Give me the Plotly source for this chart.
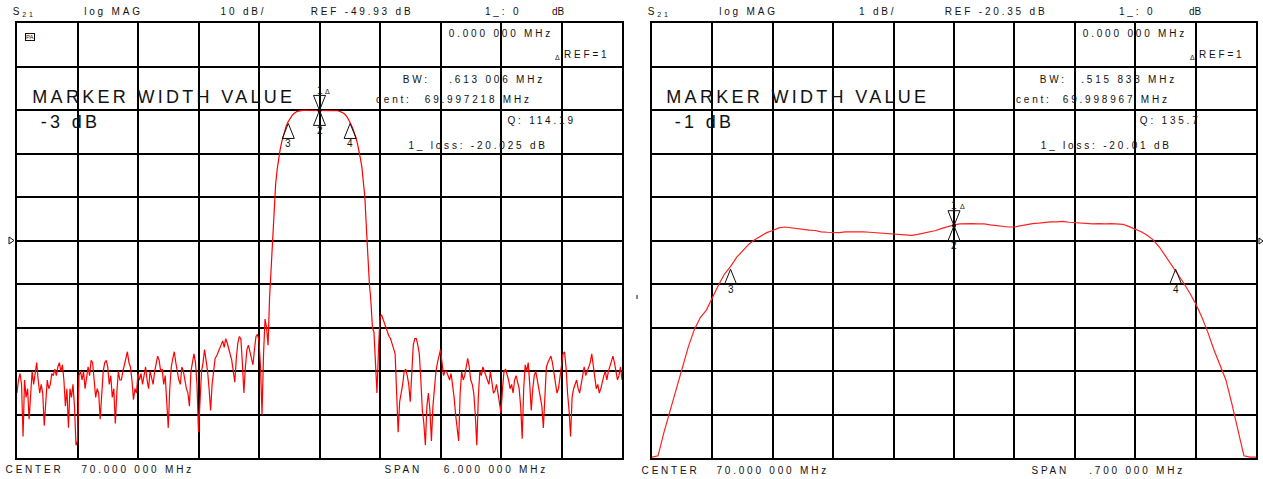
import numpy as np
import plotly.graph_objects as go

W, H = 1263, 479

# ---------------- data ----------------
left_start, left_stop = 67.0, 73.0          # MHz (center 70, span 6)
left_db = [
    -85, -82, -80.5, -83, -95, -82, -86, -84, -91, -86,
    -80, -83, -81, -78, -82, -85, -83, -85, -92.5, -86,
    -82, -84, -83, -80.5, -81, -79.5, -81, -79, -78, -80,
    -78.5, -82, -88, -84, -93, -84, -86, -83, -88, -97,
    -96, -81, -80, -82, -80, -84, -82, -79, -81, -77.5,
    -78, -83, -86, -84, -85, -91, -86, -80, -78, -77.5,
    -79, -83, -81, -86, -84, -92, -85, -80, -82, -82,
    -80, -78, -77, -75.5, -78, -79, -82, -86.5, -84, -85,
    -80.5, -82, -80.5,
    -83, -80.5, -79, -82, -84, -80, -81.5, -83, -80, -78,
    -76.5, -77.5, -80, -79.5, -83, -81, -86, -93, -84, -79,
    -77, -75.5, -78, -80.5, -82, -83, -79, -80, -82.5, -84,
    -85, -88, -80, -77.5, -76, -78, -83, -94, -85, -80,
    -78, -75, -77.5, -80, -84, -89, -83, -79, -77, -76.5,
    -75.5, -75, -74, -73, -74.5, -72.5, -73.5, -75, -76, -77.5,
    -80, -82.5, -77, -73.5, -72, -72.5, -78, -85, -79, -75,
    -74, -75.5, -77, -78.5, -75, -72, -71.5, -73, -79, -90,
    -76, -68, -70, -74, -63, -56, -48, -41, -37, -33.6,
    -31, -29, -27.3, -26, -24.7, -23.6, -22.8, -22.2, -21.6, -21.1,
    -20.8, -20.5, -20.3, -20.2, -20.1, -20.05,
    -20.02, -20.02, -20.02, -20.02, -20.02, -20.02, -20.02, -20.02, -20.02, -20.02,
    -20.02, -20.02, -20.02, -20.02, -20.02, -20.02, -20.02, -20.02, -20.02, -20.02,
    -20.02,
    -20.05, -20.07, -20.1, -20.2, -20.3, -20.5, -20.7, -21.0, -21.4, -22.0,
    -22.6, -23.4, -24.2, -25.1, -26.2, -27.5, -29, -31, -33, -36,
    -40, -47, -55, -60, -64, -70, -71, -78, -85, -75,
    -67.5, -67, -68, -69, -70.5, -71, -72, -72.5, -73.5, -75,
    -76, -85, -94, -87, -85, -83, -80, -79.5, -81, -83,
    -87, -80, -74, -72.5, -72.5, -74, -76, -82, -89, -92,
    -97, -88, -85, -89, -96, -88, -83, -80, -78, -76,
    -75, -78, -81, -80, -80, -81, -82, -80.5, -83, -86,
    -90, -94, -96, -85, -80, -82, -81, -79, -77, -79,
    -82, -83, -85, -90, -97, -86, -80, -81, -79, -80,
    -81, -82, -83, -80, -82, -85, -84.5, -83, -85, -87,
    -89.6, -84, -80, -79.5, -80.5, -82, -84, -83, -85, -82,
    -81, -83, -84, -88, -95.5, -84, -78.5, -80, -78, -83,
    -89, -84, -81, -80, -82, -84, -85, -88, -93, -84,
    -79, -78, -77, -76.5, -78, -80, -82, -85, -84, -81,
    -78, -76, -75.5, -79, -85, -89, -95, -86, -84, -83,
    -82, -84, -85, -83, -81, -79, -81, -80, -79.5, -78,
    -76, -79, -81, -84, -83, -85, -84, -82, -81, -80,
    -82, -80, -79, -77.5, -76.5, -78, -80, -82, -81, -79,
    -82,
]

right_start, right_stop = 69.65, 70.35      # MHz (center 70, span 0.7)
right_db = [
    -25.33, -25.3, -24.75, -24.25, -23.75, -23.3, -22.8, -22.4, -22.12, -21.95,
    -21.65, -21.38, -21.12, -20.95, -20.74, -20.58, -20.44, -20.33, -20.24, -20.17,
    -20.12, -20.06, -20.04, -20.06, -20.08, -20.09, -20.11, -20.12, -20.15, -20.16,
    -20.16, -20.17, -20.15, -20.15, -20.14, -20.15, -20.16, -20.17, -20.19, -20.2,
    -20.21, -20.22, -20.22, -20.23, -20.21, -20.18, -20.15, -20.12, -20.07, -20.03,
    -19.99, -19.97, -19.96, -19.96, -19.97, -19.97, -19.99, -20.01, -20.03, -20.04,
    -20.04, -20.01, -19.98, -19.96, -19.95, -19.93, -19.92, -19.92, -19.91, -19.93,
    -19.94, -19.95, -19.96, -19.97, -19.96, -19.97, -19.96, -19.97, -19.98, -20.03,
    -20.09, -20.15, -20.23, -20.34, -20.5, -20.7, -20.92, -21.1, -21.32, -21.55,
    -21.8, -22.1, -22.45, -22.85, -23.2, -23.55, -24.1, -24.7, -25.3, -25.33,
    -25.33,
]

# markers: 1 (reference, delta), 2, 3, 4
left_marker_freq = [70.0, 70.0, 69.690715, 70.303721]
left_marker_db = [-20.025, -20.025, -23.025, -23.025]
right_marker_freq = [70.0, 70.0, 69.741050, 70.256884]
right_marker_db = [-20.01, -20.01, -21.01, -21.01]
marker_labels = ["1", "2", "3", "4"]

left_ref, left_div = -49.93, 10.0
right_ref, right_div = -20.35, 1.0

left_freq = np.linspace(left_start, left_stop, len(left_db))
right_freq = np.linspace(right_start, right_stop, len(right_db))

# ---------------- figure ----------------
TOP, BOT = 23, 458
def px(x):
    return x / W
def py(y):
    return (H - y) / H

fig = go.Figure()
fig.add_trace(go.Scatter(x=left_freq, y=left_db, mode="lines",
                         line=dict(color="#ff0000", width=1.2), xaxis="x", yaxis="y",
                         showlegend=False, hoverinfo="skip"))
fig.add_trace(go.Scatter(x=right_freq, y=right_db, mode="lines",
                         line=dict(color="#ff2020", width=1.2), xaxis="x2", yaxis="y2",
                         showlegend=False, hoverinfo="skip"))
# apex dots of markers 1/2
fig.add_trace(go.Scatter(x=left_marker_freq[:1], y=left_marker_db[:1], mode="markers",
                         marker=dict(color="black", size=4), xaxis="x", yaxis="y",
                         showlegend=False, hoverinfo="skip"))
fig.add_trace(go.Scatter(x=right_marker_freq[:1], y=right_marker_db[:1], mode="markers",
                         marker=dict(color="black", size=4), xaxis="x2", yaxis="y2",
                         showlegend=False, hoverinfo="skip"))

ax_common = dict(showgrid=True, gridcolor="#000000", gridwidth=1.5, zeroline=False,
                 showticklabels=False, ticks="", showline=True, linecolor="#000000",
                 linewidth=1.6, mirror=True, fixedrange=True)
ydom = [py(BOT), py(TOP)]
fig.update_layout(
    width=W, height=H, autosize=False,
    margin=dict(l=0, r=0, t=0, b=0),
    paper_bgcolor="white", plot_bgcolor="white",
    xaxis=dict(domain=[px(17), px(622)], range=[left_start, left_stop],
               tick0=left_start, dtick=(left_stop - left_start) / 10, **ax_common),
    yaxis=dict(domain=ydom, range=[left_ref - 5 * left_div, left_ref + 5 * left_div],
               tick0=left_ref, dtick=left_div, **ax_common),
    xaxis2=dict(domain=[px(652), px(1256)], range=[right_start, right_stop],
                tick0=right_start, dtick=(right_stop - right_start) / 10, anchor="y2", **ax_common),
    yaxis2=dict(domain=ydom, range=[right_ref - 5 * right_div, right_ref + 5 * right_div],
                tick0=right_ref, dtick=right_div, anchor="x2", **ax_common),
    font=dict(family="Liberation Sans, Arial, sans-serif", color="#111111"),
)

ann = []
def txt(s, cx, cy, size=10):
    ann.append(dict(text=s, x=px(cx), y=py(cy), xref="paper", yref="paper",
                    xanchor="center", yanchor="middle", showarrow=False,
                    font=dict(size=size, color="#111111",
                              family="Liberation Sans, Arial, sans-serif")))

small_texts = [
    ("S<sub>21</sub>", 24, 12), ("log MAG", 113, 11), ("10 dB/", 244, 11),
    ("REF -49.93 dB", 362, 11), ("1_: 0", 503, 11), ("dB", 558, 11),
    ("0.000 000 MHz", 501, 34), ("REF=1", 587, 55), ("BW:", 416, 79),
    (".613 006 MHz", 497, 79), ("cent:", 394, 99), ("69.997218 MHz", 478, 99),
    ("Q: 114.19", 542, 121), ("1_ loss: -20.025 dB", 478, 145),
    ("CENTER", 34, 469), ("70.000 000 MHz", 137, 469), ("SPAN", 404, 469),
    ("6.000 000 MHz", 496, 469),
    ("S<sub>21</sub>", 659, 12), ("log MAG", 748, 11), ("1 dB/", 878, 11),
    ("REF -20.35 dB", 996, 11), ("1_: 0", 1137, 11), ("dB", 1195, 11),
    ("0.000 000 MHz", 1135, 34), ("REF=1", 1222, 55), ("BW:", 1053, 79),
    (".515 833 MHz", 1129, 79), ("cent:", 1034, 99), ("69.998967 MHz", 1116, 99),
    ("Q: 135.7", 1170, 121), ("1_ loss: -20.01 dB", 1106, 145),
    ("CENTER", 670, 470), ("70.000 000 MHz", 772, 470), ("SPAN", 1050, 470),
    (".700 000 MHz", 1137, 470),
]
for s, cx, cy in small_texts:
    txt(s, cx, cy, 10)
for s, cx, cy in [("MARKER WIDTH VALUE", 164, 97), ("-3 dB", 70, 122),
                  ("MARKER WIDTH VALUE", 798, 97), ("-1 dB", 704, 122)]:
    txt(s, cx, cy, 18)
# small delta symbols before REF=1
txt("Δ", 557, 57, 7)
txt("Δ", 1192, 57, 7)
# little icon box
ann.append(dict(text="PA", x=px(25), y=py(33), xref="paper", yref="paper",
                showarrow=False, font=dict(size=6, color="#111111"),
                bordercolor="#111111", borderwidth=1, borderpad=0))

# marker glyphs
shapes = []
def markers(freqs, dbs, xr, yr):
    for k, (f, d) in enumerate(zip(freqs, dbs)):
        if k == 0:
            path = "M0,0 L-6,15 L6,15 Z"
        else:
            path = "M0,0 L-6,-15 L6,-15 Z"
        shapes.append(dict(type="path", xref=xr, yref=yr, xsizemode="pixel",
                           ysizemode="pixel", xanchor=f, yanchor=d, path=path,
                           line=dict(color="#111111", width=1),
                           fillcolor="rgba(0,0,0,0)"))
        shift = 20 if k == 0 else -20
        ann.append(dict(text=marker_labels[k], x=f, y=d, xref=xr, yref=yr,
                        showarrow=False, yshift=shift,
                        font=dict(size=10, color="#111111")))
    ann.append(dict(text="Δ", x=freqs[0], y=dbs[0], xref=xr, yref=yr,
                    showarrow=False, xshift=8, yshift=19,
                    font=dict(size=7, color="#111111")))

markers(left_marker_freq, left_marker_db, "x", "y")
markers(right_marker_freq, right_marker_db, "x2", "y2")

# reference-position indicators at panel edges
shapes.append(dict(type="path", xref="paper", yref="paper",
                   path=f"M{px(9)},{py(237)} L{px(14)},{py(240.5)} L{px(9)},{py(244)} Z",
                   line=dict(color="#111111", width=1), fillcolor="rgba(0,0,0,0)"))
shapes.append(dict(type="path", xref="paper", yref="paper",
                   path=f"M{px(1259)},{py(238)} L{px(1263)},{py(241)} L{px(1259)},{py(244)} Z",
                   line=dict(color="#111111", width=1), fillcolor="rgba(0,0,0,0)"))
shapes.append(dict(type="line", xref="paper", yref="paper",
                   x0=px(637), x1=px(637), y0=py(295), y1=py(299),
                   line=dict(color="#111111", width=1)))

fig.update_layout(annotations=ann, shapes=shapes)

post = """
document.body.style.margin = '0';
document.body.style.padding = '0';
var gdiv = document.getElementById('{plot_id}');
if (gdiv) {
  gdiv.querySelectorAll('.annotation-text').forEach(function(t){
    var s = t.textContent || '';
    if (s.length < 3) return;
    var fs = parseFloat(t.style.fontSize) || 10;
    t.style.letterSpacing = (fs > 14 ? '3.3px' : '2.8px');
  });
}
"""
fig.write_html("out.html", post_script=post, config={"displayModeBar": False})
